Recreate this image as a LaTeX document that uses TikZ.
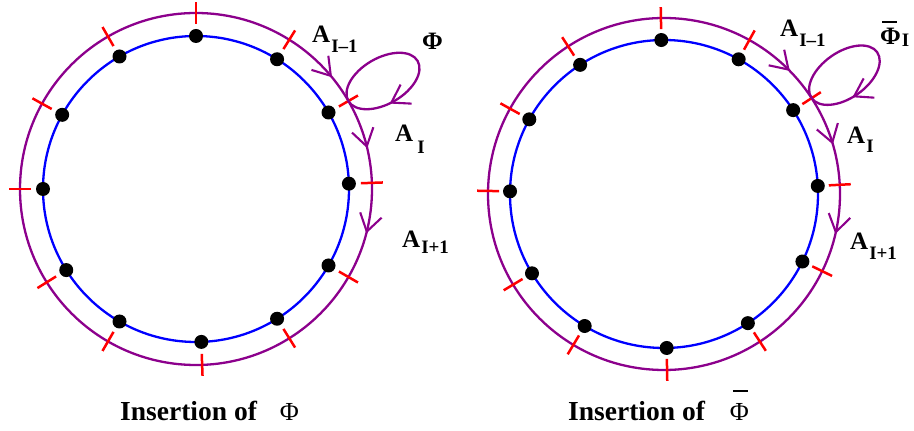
\documentclass[tikz,border=0pt]{standalone}
\usepackage{fontspec}
\setmainfont{Liberation Serif}
\definecolor{purp}{RGB}{140,0,140}
\newcommand{\mysub}[2]{\raisebox{#1}{\fontsize{19}{19}\selectfont #2}}
\newcommand{\mybar}[3]{\makebox[0pt][l]{\hspace{#1}\raisebox{#3}{\rule{#2}{1.6pt}}}}
\begin{document}
\begin{tikzpicture}[x=1pt,y=1pt,
  outer/.style={draw=purp, line width=2.3pt},
  inner/.style={draw=blue, line width=2.3pt},
  tickmark/.style={draw=red, line width=2.5pt},
  vbarb/.pic={\draw[purp, line width=2.1pt, line join=miter] (-17,11) -- (0,0) -- (-17,-11);},
  lab/.style={anchor=base west, inner sep=0pt, font=\fontsize{25}{25}\selectfont\bfseries},
  captext/.style={anchor=base west, inner sep=0pt, font=\fontsize{27.5}{27.5}\selectfont\bfseries}]
\useasboundingbox (0,0) rectangle (914,431);
% ---------- left figure ----------
\coordinate (C1) at (196,242);
\draw[outer] (C1) circle[radius=176];
\draw[inner] (C1) circle[radius=153];
\foreach \a in {90,58,30,2,-30,-58,-88,-120,-148,180,151,120} {
  \draw[tickmark] (C1) ++(\a:165) -- ++(\a:22);
  \fill[black] (C1) ++(\a:153) circle[radius=7];
}
\foreach \a in {40,14,-14} {
  \path (C1) ++(\a:176) pic[rotate=\a-90]{vbarb};
}
\draw[outer, rotate around={30:(383,350)}] (383,350) ellipse[x radius=40, y radius=23];
\path (391.4,328.4) pic[rotate=210]{vbarb};
\node[lab] (lA1) at (312,388) {A\hspace{1pt}\mysub{-10pt}{I–1}};
\node[lab] (lA2) at (395,289) {A\hspace{4pt}\mysub{-12pt}{I}};
\node[lab] (lA3) at (402,183) {A\hspace{1pt}\mysub{-6pt}{I+1}};
\node[lab] (lPhi) at (422,381) {Φ};
\node[captext] (lcap) at (120,10) {Insertion of\hspace{23pt}{\mdseries\fontsize{26}{26}\selectfont Φ}};
% ---------- right figure ----------
\coordinate (C2) at (664,237);
\draw[outer] (C2) circle[radius=176];
\draw[inner] (C2) circle[radius=154];
\foreach \a in {91,61,33,3,-26,-57,-89,-121,-149,179,151,123} {
  \draw[tickmark] (C2) ++(\a:165) -- ++(\a:22);
  \fill[black] (C2) ++(\a:154) circle[radius=7];
}
\foreach \a in {45,17,-12.5} {
  \path (C2) ++(\a:176) pic[rotate=\a-90]{vbarb};
}
\draw[outer, rotate around={35:(844.4,355.8)}] (844.4,355.8) ellipse[x radius=40, y radius=23];
\path (854.1,334.7) pic[rotate=209]{vbarb};
\node[lab] (rA1) at (780,394) {A\hspace{1pt}\mysub{-10pt}{I–1}};
\node[lab] (rPhi) at (880,386) {\mybar{2pt}{15pt}{22pt}Φ\hspace{1pt}\mysub{-2pt}{I}};
\node[lab] (rA2) at (847,287) {A\hspace{1pt}\mysub{-9pt}{I}};
\node[lab] (rA3) at (850,181) {A\hspace{1pt}\mysub{-10pt}{I+1}};
\node[captext] (rcap) at (568,10) {Insertion of\hspace{25pt}{\mdseries\fontsize{26}{26}\selectfont\mybar{3pt}{15pt}{29pt}Φ}};
\end{tikzpicture}
\end{document}
